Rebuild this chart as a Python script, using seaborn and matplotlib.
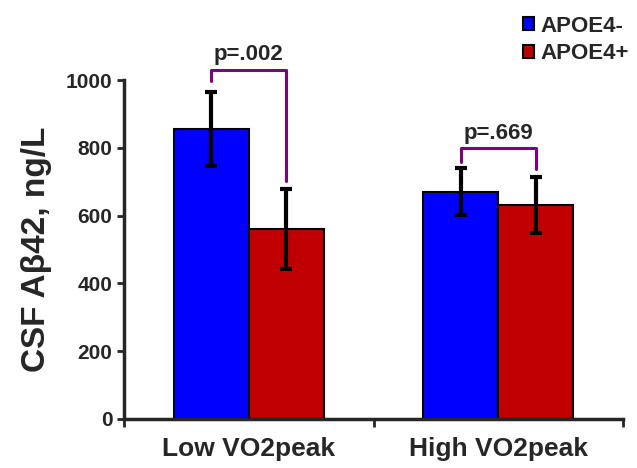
import pandas as pd
import numpy as np
import seaborn as sns
import matplotlib
matplotlib.use("Agg")
import matplotlib.pyplot as plt

# data
groups = ["Low VO2peak", "High VO2peak"]
genotypes = ["APOE4-", "APOE4+"]
means = {"APOE4-": [855, 670], "APOE4+": [560, 631]}
errs = {"APOE4-": [110, 69], "APOE4+": [117, 82]}
p_labels = ["p=.002", "p=.669"]
# bracket heights: (left foot, top, right foot)
brackets = [(998, 1031, 703), (759, 800, 737)]

colors = ["#0000FF", "#C00000"]

df = pd.DataFrame({
    "group": [g for gt in genotypes for g in groups],
    "genotype": [gt for gt in genotypes for g in groups],
    "value": [v for gt in genotypes for v in means[gt]],
})

sns.set_style("ticks")
plt.rcParams["font.family"] = ["Liberation Sans", "DejaVu Sans"]
plt.rcParams["font.weight"] = "bold"

fig = plt.figure(figsize=(6.37, 4.68), dpi=100)
ax = fig.add_axes([0.195, 0.105, 0.783, 0.724])

sns.barplot(data=df, x="group", y="value", hue="genotype", order=groups,
            hue_order=genotypes, palette=colors, width=0.6, errorbar=None,
            edgecolor="black", linewidth=1.5, saturation=1, ax=ax)

# error bars and bar centres
centres = {}
for gt, cont in zip(genotypes, ax.containers):
    xs = [b.get_x() + b.get_width() / 2 for b in cont]
    centres[gt] = xs
    ax.errorbar(xs, means[gt], yerr=errs[gt], fmt="none", ecolor="black",
                elinewidth=3, capsize=4, capthick=3, zorder=5)

# significance brackets
for i, (lo, top, ro) in enumerate(brackets):
    x0 = centres["APOE4-"][i]
    x1 = centres["APOE4+"][i]
    ax.plot([x0, x0, x1, x1], [lo, top, top, ro], color="#800080", lw=2.2,
            clip_on=False, zorder=6)
    ax.text((x0 + x1) / 2, top + 12, p_labels[i], ha="center", va="bottom",
            fontsize=16, fontweight="bold", clip_on=False)

ax.set_ylim(0, 1000)
ax.set_xlim(-0.5, 1.5)
ax.set_yticks(range(0, 1001, 200))
ax.set_xlabel("")
ax.set_ylabel("CSF Aβ42, ng/L", fontsize=24, fontweight="bold", labelpad=10)
ax.tick_params(axis="y", labelsize=15, width=2, length=5, direction="out")
ax.tick_params(axis="x", labelsize=19, length=0, pad=13)
ax.set_xticks([-0.5, 0.5, 1.5], minor=True)
ax.tick_params(axis="x", which="minor", length=6, width=2, direction="out")
for t in ax.get_xticklabels() + ax.get_yticklabels():
    t.set_fontweight("bold")

sns.despine(ax=ax)
ax.spines["left"].set_linewidth(2.5)
ax.spines["bottom"].set_linewidth(2.5)

handles, labels = ax.get_legend_handles_labels()
leg = ax.legend(handles, labels, loc="upper right", bbox_to_anchor=(1.012, 1.0),
                bbox_transform=fig.transFigure, frameon=False, fontsize=16,
                handlelength=0.5, handleheight=0.5, handletextpad=0.3,
                labelspacing=0.3, borderaxespad=0.3)
for t in leg.get_texts():
    t.set_fontweight("bold")

fig.savefig("out.png", dpi=100)
